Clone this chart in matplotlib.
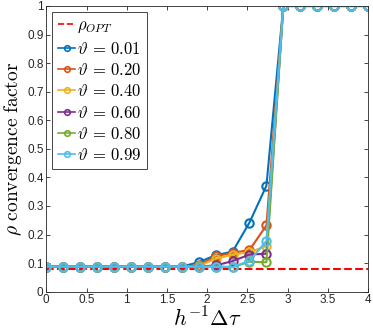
import numpy as np
import matplotlib
matplotlib.use("Agg")
import matplotlib.pyplot as plt

plt.rcParams['mathtext.fontset'] = 'cm'
plt.rcParams['font.family'] = ['Liberation Sans', 'DejaVu Sans']

x = [0.0, 0.211, 0.421, 0.632, 0.842, 1.053, 1.263, 1.474, 1.684, 1.895,
     2.105, 2.316, 2.526, 2.737, 2.947, 3.158, 3.368, 3.579, 3.789, 4.0]
rho_opt = 0.08

labels = ["0.01", "0.20", "0.40", "0.60", "0.80", "0.99"]
base = [0.088] * 9
top = [1.0] * 6
rho_001 = base + [0.103, 0.128, 0.140, 0.242, 0.371] + top
rho_020 = base + [0.092, 0.124, 0.136, 0.146, 0.232] + top
rho_040 = base + [0.090, 0.115, 0.130, 0.138, 0.160] + top
rho_060 = base + [0.088, 0.092, 0.107, 0.130, 0.133] + top
rho_080 = base + [0.088, 0.088, 0.086, 0.105, 0.103] + top
rho_099 = base + [0.088, 0.088, 0.086, 0.108, 0.177] + top
series = [rho_001, rho_020, rho_040, rho_060, rho_080, rho_099]

colors = ['#0072BD', '#D95319', '#EDB120', '#7E2F8E', '#77AC30', '#4DBEEE']

fig = plt.figure(figsize=(3.73, 3.32), dpi=100)
ax = fig.add_axes([46.3 / 373, 1 - 291.7 / 332, (368 - 46.3) / 373, (291.7 - 6) / 332])

ax.plot([0, 4], [rho_opt, rho_opt], 'r--', linewidth=1.5, label=r'$\rho_{OPT}$')
for y, lab, c in zip(series, labels, colors):
    ax.plot(x, y, '-o', color=c, linewidth=1.5, markersize=6, markerfacecolor='none',
            markeredgewidth=1.5, label=r'$\vartheta\,=\,%s$' % lab)

ax.set_xlim(0, 4)
ax.set_ylim(0, 1)
ax.set_xticks(np.arange(0, 4.01, 0.5))
ax.set_xticklabels(['0', '0.5', '1', '1.5', '2', '2.5', '3', '3.5', '4'])
ax.set_yticks(np.arange(0, 1.01, 0.1))
ax.set_yticklabels(['0', '0.1', '0.2', '0.3', '0.4', '0.5', '0.6', '0.7', '0.8', '0.9', '1'])
ax.tick_params(direction='in', length=3, width=0.6, colors='#262626', labelsize=8.5,
               top=True, right=True, pad=2)
for s in ax.spines.values():
    s.set_color('#262626')
    s.set_linewidth(0.6)

ax.set_xlabel(r'$h^{-1}\Delta\tau$', fontsize=16, labelpad=1)
ax.set_ylabel(r'$\rho\ \mathrm{convergence\ factor}$', fontsize=14, labelpad=2)

leg = ax.legend(loc='upper left', fontsize=12, handlelength=1.0, handletextpad=0.1,
                borderpad=0.35, labelspacing=0.32, fancybox=False, framealpha=1,
                borderaxespad=0.37)
leg.get_frame().set_edgecolor('#262626')
leg.get_frame().set_linewidth(0.6)
for h in leg.legend_handles:
    h.set_linewidth(1.2)
for h in leg.legend_handles[1:]:
    h.set_markersize(4)
    h.set_markeredgewidth(1.2)

fig.savefig('out.png', dpi=100)
